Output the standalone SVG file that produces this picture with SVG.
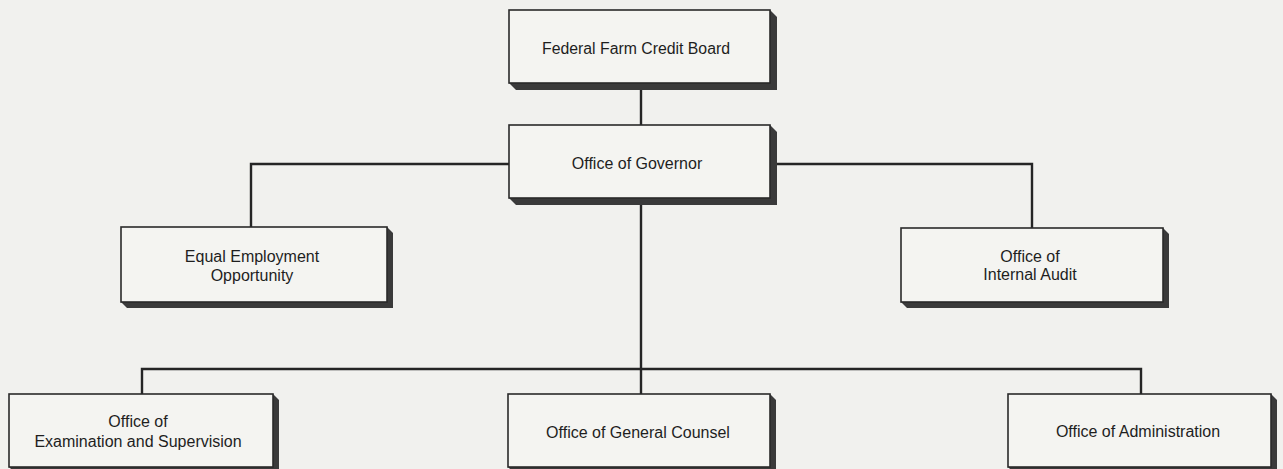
<svg xmlns="http://www.w3.org/2000/svg" width="1283" height="469" viewBox="0 0 1283 469">
<style>
.bg{fill:#f1f1ee}
.box{fill:#f4f4f1;stroke:#2a2a2a;stroke-width:1.6}
.ext{fill:#3a3a3a}
.lbl{font-family:"Liberation Sans",Arial,sans-serif;font-size:16px;fill:#1e1e1e;text-anchor:middle}
.con{stroke:#252525;stroke-width:2.4;fill:none}
</style>
<rect class="bg" x="0" y="0" width="1283" height="469"/>
<g id="connectors">
<line class="con" x1="641" y1="90" x2="641" y2="125"/>
<polyline class="con" points="509,164 251,164 251,227"/>
<polyline class="con" points="770,164 1032,164 1032,228"/>
<line class="con" x1="641" y1="198" x2="641" y2="394"/>
<polyline class="con" points="142,394 142,369 1141,369 1141,394"/>
</g>
<g id="federal-farm-credit-board">
<polygon class="ext" points="770,10 777,17 777,90 516,90 509,83"/>
<rect class="box" x="509" y="10" width="261" height="73"/>
<text class="lbl" x="636" y="54" textLength="188" lengthAdjust="spacingAndGlyphs">Federal Farm Credit Board</text>
</g>
<g id="office-of-governor">
<polygon class="ext" points="770,125 777,132 777,205 516,205 509,198"/>
<rect class="box" x="509" y="125" width="261" height="73"/>
<text class="lbl" x="637" y="169">Office of Governor</text>
</g>
<g id="equal-employment-opportunity">
<polygon class="ext" points="387,227 393,233 393,308 127,308 121,302"/>
<rect class="box" x="121" y="227" width="266" height="75"/>
<text class="lbl" x="252" y="262">Equal Employment</text>
<text class="lbl" x="252" y="281">Opportunity</text>
</g>
<g id="office-of-internal-audit">
<polygon class="ext" points="1163,228 1169,234 1169,308 907,308 901,302"/>
<rect class="box" x="901" y="228" width="262" height="74"/>
<text class="lbl" x="1030" y="262">Office of</text>
<text class="lbl" x="1030" y="280">Internal Audit</text>
</g>
<g id="office-of-examination-and-supervision">
<polygon class="ext" points="273,394 279,400 279,473 15,473 9,467"/>
<rect class="box" x="9" y="394" width="264" height="73"/>
<text class="lbl" x="138" y="427">Office of</text>
<text class="lbl" x="138" y="447">Examination and Supervision</text>
</g>
<g id="office-of-general-counsel">
<polygon class="ext" points="770,394 776,400 776,473 514,473 508,467"/>
<rect class="box" x="508" y="394" width="262" height="73"/>
<text class="lbl" x="638" y="438">Office of General Counsel</text>
</g>
<g id="office-of-administration">
<polygon class="ext" points="1271,394 1277,400 1277,473 1014,473 1008,467"/>
<rect class="box" x="1008" y="394" width="263" height="73"/>
<text class="lbl" x="1138" y="437">Office of Administration</text>
</g>
</svg>
